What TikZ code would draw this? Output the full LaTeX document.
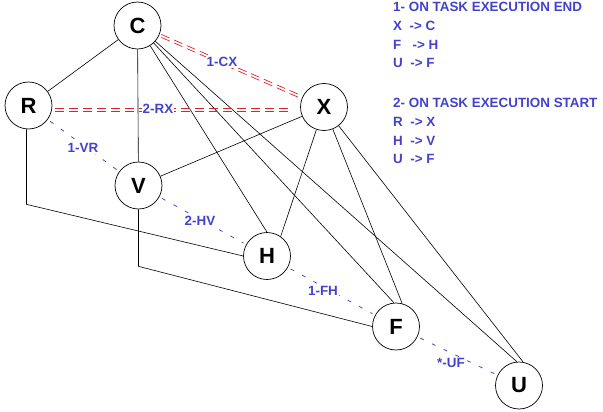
\documentclass[tikz,border=0pt]{standalone}
\usepackage{fontspec}
\setmainfont{Liberation Sans}
\usetikzlibrary{calc}
\definecolor{ibl}{RGB}{66,66,206}
\definecolor{ired}{RGB}{232,30,40}
\begin{document}
\begin{tikzpicture}[x=1pt,y=-1pt,
  vert/.style={circle,draw,line width=0.7pt,minimum size=47pt,inner sep=0pt,font=\fontsize{22}{22}\selectfont\bfseries},
  edge/.style={line width=0.6pt},
  rdash/.style={draw=ired,line width=0.7pt,dash pattern=on 9pt off 5pt},
  bdash/.style={draw=ibl,line width=0.75pt,dash pattern=on 4pt off 9pt},
  lbl/.style={text=ibl,font=\fontsize{13.4}{16}\selectfont\bfseries,inner sep=1pt,fill=white},
  info/.style={text=ibl,font=\fontsize{13.4}{16}\selectfont\bfseries,inner sep=0pt,anchor=base west}]
\useasboundingbox (0,0) rectangle (603,412);

\node[vert] (C) at (137.5,25.5) {C};
\node[vert] (X) at (324,107) {X};
\node[vert] (R) at (28.5,105.5) {R};
\node[vert] (V) at (138.5,185.5) {V};
\node[vert] (H) at (267,256) {H};
\node[vert] (F) at (396,326.5) {F};
\node[vert] (U) at (519,385.5) {U};

% solid connectors
\draw[edge] (C) -- (R);
\draw[edge] (C) -- (V);
\draw[edge] (C) -- (H.north);
\draw[edge] (C) -- (F.95);
\draw[edge] (C) -- (U.95);
\draw[edge] (X) -- (V);
\draw[edge] (X) -- (H.55);
\draw[edge] (X) -- (F.75);
\draw[edge] (X) -- (U.80);
\draw[edge] ([xshift=-2pt]R.south) -- ++(0,75) -- (H.west);
\draw[edge] (V.south) -- ++(0,57) -- (F.west);

% red double dashed
\draw[rdash] ($(C)!26pt!(X)+(0,-1.5)$) -- ($(X)!26pt!(C)+(0,-1.5)$);
\draw[rdash] ($(C)!26pt!(X)+(0,1.5)$) -- ($(X)!26pt!(C)+(0,1.5)$);
\draw[rdash] ($(R.east)+(3,2.5)$) -- ($(X.west)+(-12,1)$);
\draw[rdash] ($(R.east)+(3,5.5)$) -- ($(X.west)+(-12,4)$);

% blue dashed
\draw[bdash,shorten <=3pt,shorten >=3pt] (R) -- (V);
\draw[bdash,shorten <=3pt,shorten >=3pt] (V) -- (H);
\draw[bdash,shorten <=3pt,shorten >=3pt] (H) -- (F);
\draw[bdash,shorten <=3pt,shorten >=3pt] (F) -- (U);

% labels
\node[lbl] (lcx) at (222,62) {1-CX};
\node[lbl] (lrx) at (158,109) {2-RX};
\node[lbl] (lvr) at (83,148) {1-VR};
\node[lbl] (lhv) at (200,221) {2-HV};
\node[lbl] (lfh) at (323,291) {1-FH};
\node[lbl,fill=none] (luf) at (451,363) {*-UF};

% info text
\node[info] (t1) at (393,12) {1- ON TASK EXECUTION END};
\node[info] (t2) at (393,31) {X\ \ -> C};
\node[info] (t3) at (393,50) {F\ \ \ -> H};
\node[info] (t4) at (393,68) {U\ \ -> F};
\node[info] (t5) at (393,107) {2- ON TASK EXECUTION START};
\node[info] (t6) at (393,126) {R\ \ -> X};
\node[info] (t7) at (393,145) {H\ \ -> V};
\node[info] (t8) at (393,163) {U\ \ -> F};
\end{tikzpicture}
\end{document}
